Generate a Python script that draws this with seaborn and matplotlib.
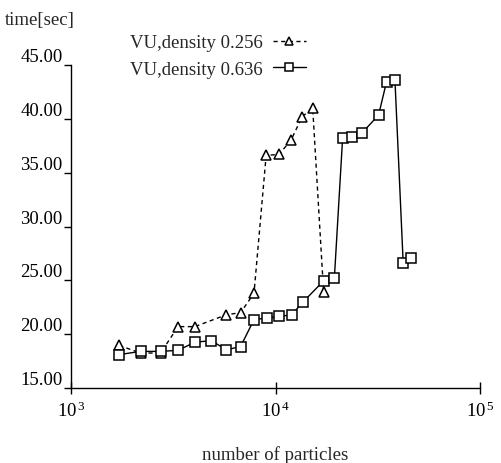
import math
import matplotlib
matplotlib.use("Agg")
import matplotlib.pyplot as plt
import seaborn as sns
import pandas as pd
from matplotlib.ticker import FixedLocator, FuncFormatter, NullLocator

# ---- data ----
tri_x = [1720, 2190, 2740, 3340, 4030, 5750, 6750, 7850, 9000, 10400, 11900, 13500, 15200, 17190]
tri_y = [18.95, 18.25, 18.25, 20.7, 20.7, 21.8, 22.0, 23.8, 36.6, 36.7, 38.0, 40.2, 41.0, 23.9]
sq_x = [1720, 2190, 2740, 3340, 4030, 4850, 5750, 6750, 7850, 9070, 10460, 12010, 13570,
        17190, 19400, 21290, 23660, 26370, 31920, 34920, 38380, 42100, 46050]
sq_y = [18.1, 18.4, 18.4, 18.5, 19.25, 19.4, 18.55, 18.85, 21.35, 21.5, 21.65, 21.8, 22.95,
        24.95, 25.2, 38.2, 38.35, 38.65, 40.35, 43.45, 43.6, 26.65, 27.1]
labels = ["VU,density 0.256", "VU,density 0.636"]
y_ticks = [15, 20, 25, 30, 35, 40, 45]
x_ticks = [1e3, 1e4, 1e5]

sns.set_theme(style="ticks")
plt.rcParams["font.family"] = ["Liberation Serif", "DejaVu Serif"]
plt.rcParams["mathtext.fontset"] = "custom"
plt.rcParams["mathtext.rm"] = "Liberation Serif"
plt.rcParams["mathtext.it"] = "Liberation Serif"

FS = 13.5
fig = plt.figure(figsize=(5.02, 4.64), dpi=100)
ax = fig.add_axes([71/502, 75/464, (480-71)/502, (389-66)/464])

df_t = pd.DataFrame({"x": tri_x, "y": tri_y})
df_s = pd.DataFrame({"x": sq_x, "y": sq_y})

sns.lineplot(data=df_t, x="x", y="y", ax=ax, color="black", marker="^", markersize=7,
             markerfacecolor="white", markeredgecolor="black", markeredgewidth=1.1,
             linewidth=1.0, linestyle=(0, (3, 2.5)), label=labels[0], legend=False)
sns.lineplot(data=df_s, x="x", y="y", ax=ax, color="black", marker="s", markersize=7,
             markerfacecolor="white", markeredgecolor="black", markeredgewidth=1.1,
             linewidth=1.0, linestyle="-", label=labels[1], legend=False)

ax.set_xscale("log")
ax.set_xlim(1e3, 1e5)
ax.set_ylim(15, 45)
ax.xaxis.set_major_locator(FixedLocator(x_ticks))
ax.xaxis.set_minor_locator(NullLocator())
ax.xaxis.set_major_formatter(FuncFormatter(lambda v, p: r"$10^{\,%d}$" % round(math.log10(v))))
ax.yaxis.set_major_locator(FixedLocator(y_ticks))
ax.yaxis.set_major_formatter(FuncFormatter(lambda v, p: "%.2f" % v))

for s in ["top", "right"]:
    ax.spines[s].set_visible(False)
for s in ["left", "bottom"]:
    ax.spines[s].set_linewidth(1.0)
    ax.spines[s].set_color("black")

ax.tick_params(axis="x", direction="inout", length=8, width=1, labelsize=FS, pad=5, colors="black")
ax.tick_params(axis="y", direction="out", length=5, width=1, labelsize=FS, pad=1, colors="black")
for lab in ax.get_yticklabels():
    lab.set_va("bottom")

ax.set_xlabel("number of particles", fontsize=FS, labelpad=18)
ax.set_ylabel("")
fig.text(5/502, 1 - 21/464, "time[sec]", fontsize=FS, ha="left", va="center")

h, l = ax.get_legend_handles_labels()
fig.legend(h, l, loc="upper left", bbox_to_anchor=(121/502, 1 - 26/464), frameon=False,
           markerfirst=False, fontsize=FS, handlelength=1.8, handletextpad=0.5,
           labelspacing=0.5, borderpad=0, markerscale=0.75)

fig.savefig("out.png", dpi=100, facecolor="white")
